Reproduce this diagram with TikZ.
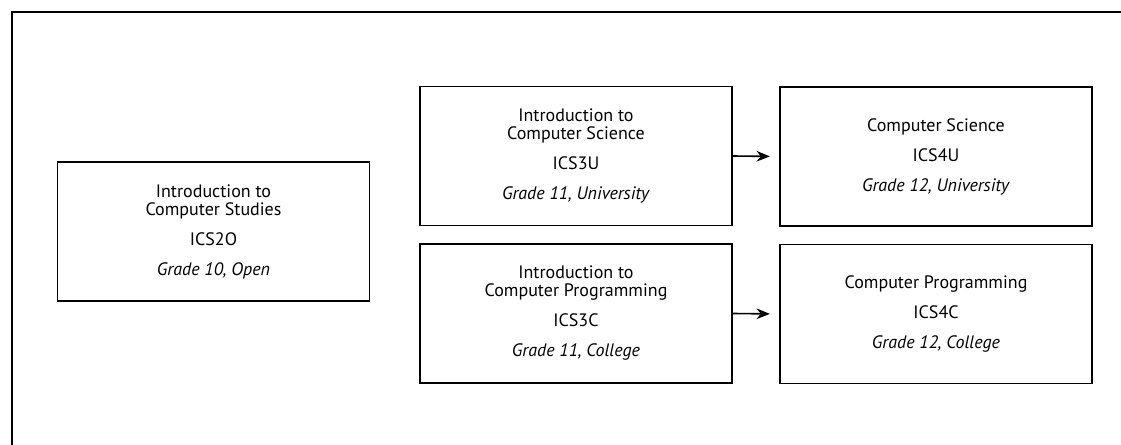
\documentclass[tikz,border=0pt]{standalone}
\usepackage{fontspec}
\setmainfont{PT Sans}
\usepackage{tikz}
\usetikzlibrary{arrows,arrows.meta}
\tikzset{every path/.style={line width=1.2pt}}
\tikzset{course/.style={draw,rectangle,align=center,minimum width=234pt,minimum height=104pt,inner sep=0pt,font=\fontsize{13.5}{13.5}\selectfont}}

\begin{document}
\begin{tikzpicture}[x=0.75pt,y=-0.75pt]
\useasboundingbox (0,0) rectangle (1121,445);
\draw (12,445) -- (12,12) -- (1121,12);
\node[course] (ics2o) at (213.5,231.5) {Introduction to\\Computer Studies\\[9pt]ICS2O\\[9pt]\textit{Grade 10, Open}};
\node[course] (ics3u) at (576,156) {Introduction to\\Computer Science\\[9pt]ICS3U\\[9pt]\textit{Grade 11, University}};
\node[course] (ics3c) at (576,313.5) {Introduction to\\Computer Programming\\[9pt]ICS3C\\[9pt]\textit{Grade 11, College}};
\node[course] (ics4u) at (936,156.5) {Computer Science\\[9pt]ICS4U\\[9pt]\textit{Grade 12, University}};
\node[course] (ics4c) at (936,314) {Computer Programming\\[9pt]ICS4C\\[9pt]\textit{Grade 12, College}};
\draw[-{Stealth[length=10pt,width=8pt]},shorten >=7pt] (ics3u.east) -- (ics4u.west);
\draw[-{Stealth[length=10pt,width=8pt]},shorten >=7pt] (ics3c.east) -- (ics4c.west);
\end{tikzpicture}
\end{document}
